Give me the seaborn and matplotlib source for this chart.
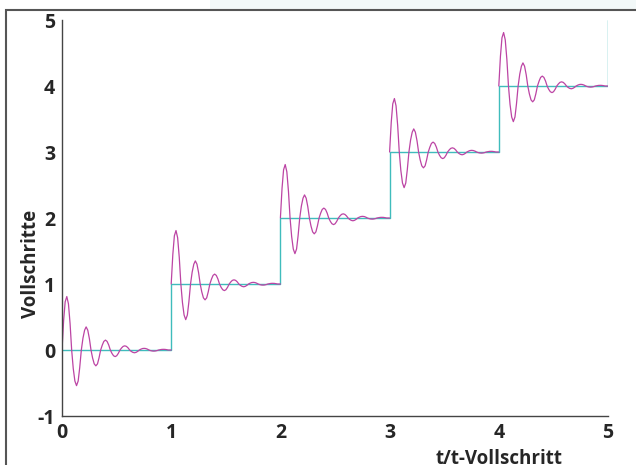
import matplotlib
matplotlib.use('Agg')
import matplotlib.pyplot as plt
import pandas as pd
import seaborn as sns
from matplotlib.patches import Rectangle

# Schritt-Sollwerte (Vollschritte)
steps_t = [0, 1, 2, 3, 4, 5]
steps_y = [0, 1, 2, 3, 4, 5]

# Einschwingen nach einem Vollschritt (relativ zum Schrittbeginn)
tau = [0.0, 0.015, 0.029, 0.044, 0.059, 0.074, 0.0885,
       0.103, 0.118, 0.133, 0.148, 0.162, 0.177,
       0.192, 0.207, 0.221, 0.236, 0.251, 0.2655,
       0.280, 0.295, 0.310, 0.325, 0.339, 0.354,
       0.369, 0.383, 0.398, 0.413, 0.428, 0.4425,
       0.457, 0.472, 0.487, 0.501, 0.516, 0.531,
       0.546, 0.560, 0.575, 0.590, 0.605, 0.6195,
       0.634, 0.649, 0.664, 0.678, 0.693, 0.708,
       0.723, 0.737, 0.752, 0.767, 0.782, 0.7965,
       0.811, 0.826, 0.841, 0.855, 0.870, 0.885,
       0.900, 0.914, 0.929, 0.944, 0.959, 0.9735,
       1.0]
swing = [0.0, 0.45, 0.73, 0.81, 0.70, 0.40, 0.0,
         -0.28, -0.47, -0.54, -0.47, -0.27, 0.0,
         0.18, 0.30, 0.35, 0.30, 0.17, 0.0,
         -0.12, -0.21, -0.24, -0.21, -0.12, 0.0,
         0.075, 0.13, 0.15, 0.13, 0.075, 0.0,
         -0.05, -0.087, -0.10, -0.087, -0.05, 0.0,
         0.032, 0.055, 0.063, 0.055, 0.032, 0.0,
         -0.021, -0.036, -0.042, -0.036, -0.021, 0.0,
         0.013, 0.022, 0.025, 0.022, 0.013, 0.0,
         -0.009, -0.015, -0.017, -0.015, -0.009, 0.0,
         0.005, 0.009, 0.01, 0.009, 0.005, 0.0,
         0.0]

xticks = [0, 1, 2, 3, 4, 5]
yticks = [-1, 0, 1, 2, 3, 4, 5]

# Tabelle fuer seaborn
rows = []
for k in steps_t[:-1]:
    for a, b in zip(tau, swing):
        rows.append({'t': k + a, 'y': k + b, 'seg': k})
df = pd.DataFrame(rows)

sns.set_style('white')
plt.rcParams['font.family'] = ['Open Sans', 'DejaVu Sans']
plt.rcParams['font.weight'] = 'bold'
plt.rcParams['axes.unicode_minus'] = False

fig = plt.figure(figsize=(6.36, 4.65), dpi=100)
ax = fig.add_axes([62/636, 1 - 416/465, 546/636, 396/465])

# Rahmen und Hintergrund wie im Screenshot
fig.patches.append(Rectangle((210/636, 1 - 10/465), 1, 1, transform=fig.transFigure,
                             facecolor='#f2f8f8', edgecolor='none', zorder=0))
fig.patches.append(Rectangle((6/636, -0.1), 1, 1 - 10/465 + 0.1, transform=fig.transFigure,
                             facecolor='none', edgecolor='#555555', lw=1.5, zorder=1))

sns.lineplot(x=steps_t, y=steps_y, drawstyle='steps-post', color='#3fbcbc',
             lw=1.0, ax=ax)
sns.lineplot(data=df, x='t', y='y', units='seg', estimator=None, sort=False,
             color='#bc44a4', lw=0.9, ax=ax)

ax.set_xlim(0, 5)
ax.set_ylim(-1, 5)
ax.set_xticks(xticks)
ax.set_yticks(yticks)
ax.tick_params(direction='in', length=3, width=0.8, color='#444444',
               labelsize=14, pad=5)
for lab in ax.get_xticklabels() + ax.get_yticklabels():
    lab.set_fontweight('bold')

for s in ['top', 'right']:
    ax.spines[s].set_visible(False)
for s in ['left', 'bottom']:
    ax.spines[s].set_color('#444444')
    ax.spines[s].set_linewidth(1.0)

ax.set_xlabel('')
ax.set_ylabel('Vollschritte', fontsize=13.5, fontweight='bold')
ax.yaxis.set_label_coords(-0.039, 0.385)
fig.text(499/636, (465 - 449)/465, 't/t-Vollschritt', ha='center', va='top',
         fontsize=13.5, fontweight='bold')

fig.savefig('out.png', dpi=100)
